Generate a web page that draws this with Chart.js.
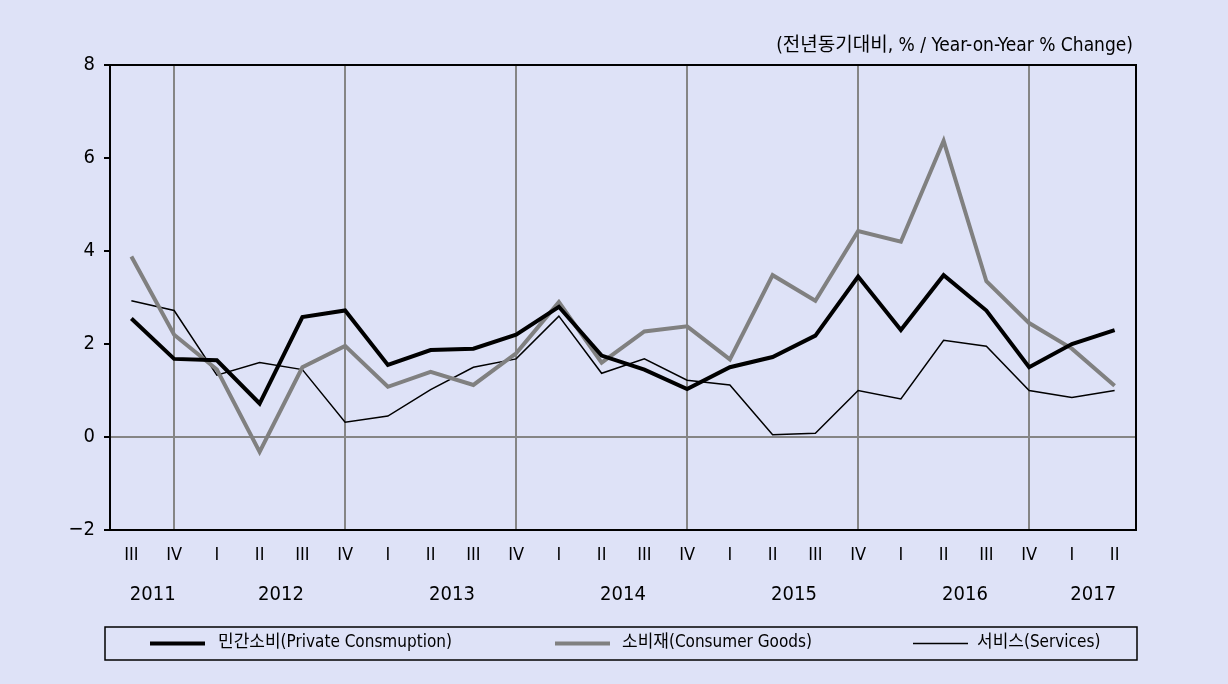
<!DOCTYPE html>
<html>
<head>
<meta charset="utf-8">
<script src="https://cdn.jsdelivr.net/npm/chart.js@4"></script>
<style>
  html, body { margin: 0; padding: 0; background: #dee2f7; }
  #wrap { width: 1228px; height: 684px; }
</style>
</head>
<body>
<div id="wrap"><canvas id="chart" width="1228" height="684"></canvas></div>
<script>
const quarters = ['III','IV','I','II','III','IV','I','II','III','IV','I','II','III','IV','I','II','III','IV','I','II','III','IV','I','II'];
const years = [
    { label: '2011', from: 0, to: 1 },
    { label: '2012', from: 2, to: 5 },
    { label: '2013', from: 6, to: 9 },
    { label: '2014', from: 10, to: 13 },
    { label: '2015', from: 14, to: 17 },
    { label: '2016', from: 18, to: 21 },
    { label: '2017', from: 22, to: 23 }
];
const privateConsumption = [2.55, 1.68, 1.65, 0.72, 2.58, 2.72, 1.55, 1.87, 1.9, 2.2, 2.8, 1.75, 1.45, 1.03, 1.5, 1.72, 2.18, 3.45, 2.3, 3.48, 2.72, 1.5, 2.0, 2.3];
const consumerGoods = [3.88, 2.2, 1.45, -0.32, 1.5, 1.96, 1.08, 1.4, 1.12, 1.8, 2.9, 1.6, 2.27, 2.38, 1.67, 3.48, 2.93, 4.43, 4.2, 6.37, 3.35, 2.45, 1.9, 1.1];
const services = [2.93, 2.72, 1.33, 1.6, 1.45, 0.32, 0.45, 1.02, 1.5, 1.68, 2.6, 1.37, 1.68, 1.22, 1.12, 0.05, 0.08, 1.0, 0.82, 2.08, 1.95, 1.0, 0.85, 1.0];
const seriesLabels = ['민간소비(Private Consmuption)', '소비재(Consumer Goods)', '서비스(Services)'];
const unitText = '(전년동기대비, % / Year-on-Year % Change)';

const FONT = "'Liberation Sans Narrow', 'DejaVu Sans Condensed', 'Noto Sans CJK KR', sans-serif";
const BG = '#dee2f7';
const GRAY = '#858585';

const decorPlugin = {
    id: 'decor',
    beforeDraw(chart) {
        const ctx = chart.ctx;
        ctx.save();
        ctx.fillStyle = BG;
        ctx.fillRect(0, 0, chart.width, chart.height);
        ctx.restore();
    },
    afterDraw(chart) {
        const ctx = chart.ctx;
        const area = chart.chartArea;
        const x = chart.scales.x;
        ctx.save();
        // top and right frame
        ctx.strokeStyle = '#000';
        ctx.lineWidth = 2;
        ctx.beginPath();
        ctx.moveTo(area.left, area.top);
        ctx.lineTo(area.right, area.top);
        ctx.lineTo(area.right, area.bottom);
        ctx.stroke();

        // unit text
        ctx.fillStyle = '#000';
        ctx.font = '19px ' + FONT;
        ctx.textAlign = 'right';
        ctx.textBaseline = 'middle';
        ctx.fillText(unitText, area.right - 3, 46);

        // year labels
        ctx.font = '20px ' + FONT;
        ctx.textAlign = 'center';
        years.forEach(y => {
            const px = (x.getPixelForValue(y.from) + x.getPixelForValue(y.to)) / 2;
            ctx.fillText(y.label, px, 595);
        });

        // legend box
        ctx.strokeStyle = '#000';
        ctx.lineWidth = 1.5;
        ctx.strokeRect(105, 627, 1032, 33);
        const items = [
            { x: 150, text: 218 },
            { x: 555, text: 622 },
            { x: 913, text: 977 }
        ];
        ctx.font = '17px ' + FONT;
        ctx.textAlign = 'left';
        chart.data.datasets.forEach((ds, i) => {
            const it = items[i];
            ctx.strokeStyle = ds.borderColor;
            ctx.lineWidth = ds.borderWidth;
            ctx.beginPath();
            ctx.moveTo(it.x, 643.5);
            ctx.lineTo(it.x + 55, 643.5);
            ctx.stroke();
            ctx.fillStyle = '#000';
            ctx.fillText(ds.label, it.text, 643);
        });
        ctx.restore();
    }
};

new Chart(document.getElementById('chart'), {
    type: 'line',
    data: {
        labels: quarters,
        datasets: [
            { label: seriesLabels[0], data: privateConsumption, borderColor: '#000', borderWidth: 4, pointRadius: 0, tension: 0 },
            { label: seriesLabels[1], data: consumerGoods, borderColor: '#808080', borderWidth: 4, pointRadius: 0, tension: 0 },
            { label: seriesLabels[2], data: services, borderColor: '#000', borderWidth: 1.5, pointRadius: 0, tension: 0 }
        ]
    },
    options: {
        responsive: false,
        animation: false,
        layout: { padding: { left: 0, right: 92, top: 65, bottom: 0 } },
        plugins: {
            legend: { display: false },
            tooltip: { enabled: false }
        },
        scales: {
            x: {
                offset: true,
                grid: {
                    offset: false,
                    drawTicks: false,
                    lineWidth: 2,
                    color: ctx => quarters[ctx.index] === 'IV' ? GRAY : 'rgba(0,0,0,0)'
                },
                border: { color: '#000', width: 2 },
                ticks: {
                    color: '#000',
                    font: { size: 18, family: FONT },
                    padding: 15,
                    maxRotation: 0,
                    autoSkip: false
                },
                afterFit: scale => { scale.height = 154; }
            },
            y: {
                min: -2,
                max: 8,
                ticks: {
                    stepSize: 2,
                    color: '#000',
                    font: { size: 20, family: FONT },
                    padding: 9,
                    callback: v => v < 0 ? '\u2212' + Math.abs(v) : String(v)
                },
                grid: {
                    drawTicks: true,
                    tickLength: 6,
                    tickColor: '#000',
                    lineWidth: 2,
                    color: ctx => ctx.tick && ctx.tick.value === 0 ? GRAY : 'rgba(0,0,0,0)'
                },
                border: { color: '#000', width: 2 },
                afterFit: scale => { scale.width = 110; }
            }
        }
    },
    plugins: [decorPlugin]
});
</script>
</body>
</html>
